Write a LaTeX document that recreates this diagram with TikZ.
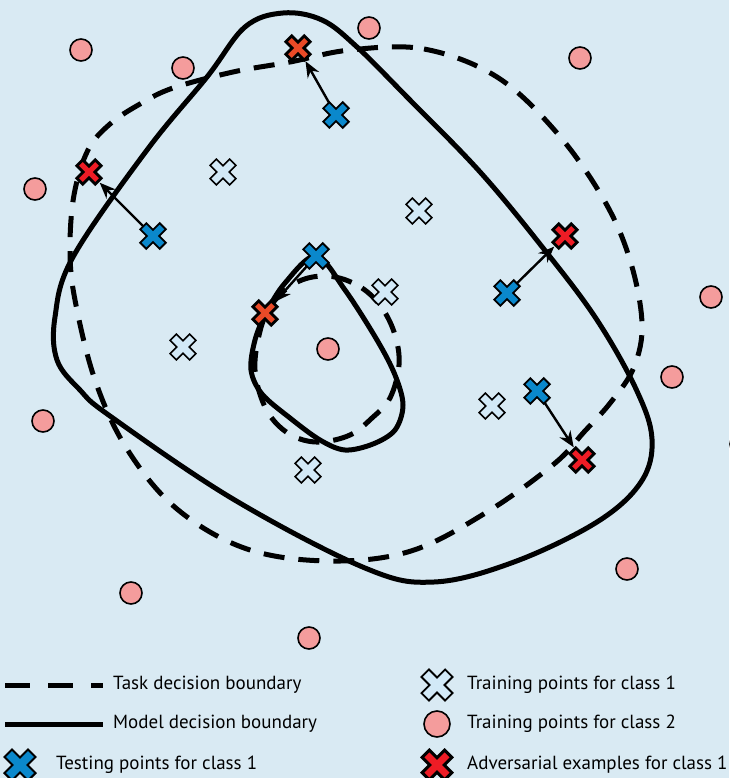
\documentclass[tikz,border=0pt]{standalone}
\usepackage{fontspec}
\setmainfont{PT Sans}
\usetikzlibrary{arrows.meta}
\definecolor{bgblue}{HTML}{D9EAF3}
\definecolor{pinkpt}{HTML}{F49C9C}
\definecolor{testblue}{HTML}{0A88CC}
\definecolor{trainblue}{HTML}{D2E9F7}
\definecolor{advred}{HTML}{EE1C25}
\definecolor{advorange}{HTML}{EA4A27}
\tikzset{
  pics/xcross/.style n args={3}{code={
    \filldraw[fill=#1, draw=black, line width=#2, line join=miter, scale=#3, rotate=45]
      (4.6,14.5)--(4.6,4.6)--(14.5,4.6)--(14.5,-4.6)--(4.6,-4.6)--(4.6,-14.5)
      --(-4.6,-14.5)--(-4.6,-4.6)--(-14.5,-4.6)--(-14.5,4.6)--(-4.6,4.6)--(-4.6,14.5)--cycle;
  }},
  spot/.style={circle, minimum size=22pt, inner sep=0pt, fill=pinkpt, draw=black, line width=1.6pt},
  xpos/.style={circle, minimum size=24pt, inner sep=0pt},
  advpos/.style={circle, minimum size=30pt, inner sep=0pt},
  modelline/.style={line width=5pt, draw=black},
  taskline/.style={line width=5pt, draw=black, dash pattern=on 21pt off 14pt},
  advarrow/.style={-{Stealth[length=16pt,width=13pt]}, line width=2.4pt},
  legtext/.style={anchor=west, font=\fontsize{19}{21}\selectfont, inner sep=0pt},
}
\begin{document}
\begin{tikzpicture}[x=1pt,y=-1pt]
\useasboundingbox (0,0) rectangle (729,778);
\fill[bgblue] (0,0) rectangle (729,778);

% model decision boundary (outer)
\draw[modelline] plot[smooth cycle, tension=0.6] coordinates {
  (283,13) (322,20) (357,47) (407,97) (481,173) (547,253) (597,320) (636,389)
  (652,439) (641,482) (597,522) (514,562) (434,582) (365,568) (233,499)
  (110,416) (80,390) (57,360) (55,317) (73,257) (147,150) (207,77) (245,27)};

% task decision boundary (outer)
\draw[taskline] plot[smooth cycle, tension=0.6] coordinates {
  (350,50) (424,49) (497,77) (557,133) (604,200) (630,260) (642,323) (634,367)
  (611,402) (584,432) (554,464) (487,512) (411,551) (330,561) (247,549)
  (177,509) (127,449) (95,380) (75,300) (70,250) (74,195) (88,150)
  (110,124) (140,104) (173,88) (233,72) (290,62)};

% model decision boundary (inner)
\draw[modelline] plot[smooth cycle, tension=0.55] coordinates {
  (316,256) (345,290) (377,340) (395,375) (403,405) (395,430) (373,444)
  (345,450) (320,440) (290,418) (262,394) (251,370) (255,340) (266,313)
  (285,283)};

% task decision boundary (inner)
\draw[taskline] plot[smooth cycle, tension=0.6] coordinates {
  (335,277) (362,288) (382,308) (395,335) (399,365) (390,398) (372,418)
  (350,435) (320,442) (295,437) (275,422) (262,400) (255,370) (258,340)
  (267,312) (285,290) (308,278)};

% training points for class 2
\foreach \n/\p in {c1/{(81,50)}, c2/{(183,68)}, c3/{(369,28)}, c4/{(580,58)},
  c5/{(35,189)}, c6/{(711,297)}, c7/{(672,377)}, c8/{(328,349)}, c9/{(43,421)},
  c10/{(627,569)}, c11/{(131,593)}, c12/{(309,638)}, c13/{(741,444)}}
  \node[spot] (\n) at \p {};

% named positions of the crosses
\node[xpos] (r1) at (223,172) {};
\node[xpos] (r2) at (419,211) {};
\node[xpos] (r3) at (385,292) {};
\node[xpos] (r4) at (183,347) {};
\node[xpos] (r5) at (492,406) {};
\node[xpos] (r6) at (308,470) {};
\node[xpos] (t1) at (336,115) {};
\node[xpos] (t2) at (153,236) {};
\node[xpos] (t3) at (316,256) {};
\node[xpos] (t4) at (507,293) {};
\node[xpos] (t5) at (537,391) {};
\node[advpos] (a1) at (298,48) {};
\node[advpos] (a2) at (89,172) {};
\node[advpos] (a3) at (565,236) {};
\node[advpos] (a4) at (265,313) {};
\node[advpos] (a5) at (582,460) {};

% adversarial shifts
\draw[advarrow] (t1.center) -- (a1);
\draw[advarrow] (t2.center) -- (a2);
\draw[advarrow] (t3.center) -- (a4);
\draw[advarrow] (t4.center) -- (a3);
\draw[advarrow] (t5.center) -- (a5);

% cross markers
\foreach \n in {r1,r2,r3,r4,r5,r6} \pic at (\n) {xcross={trainblue}{1.6pt}{0.95}};
\foreach \n in {t1,t2,t3,t4,t5} \pic at (\n) {xcross={testblue}{1.8pt}{0.95}};
\foreach \n in {a2,a3,a5} \pic at (\n) {xcross={advred}{2.8pt}{0.9}};
\foreach \n in {a1,a4} \pic at (\n) {xcross={advorange}{2.8pt}{0.9}};

% legend
\coordinate (l1a) at (5,685);
\coordinate (l1b) at (103,685);
\coordinate (l2a) at (5,724);
\coordinate (l2b) at (103,724);
\draw[line width=5pt, dash pattern=on 25pt off 18pt] (l1a) -- (l1b);
\draw[line width=5pt] (l2a) -- (l2b);
\node[legtext] (lt1) at (113,685) {Task decision boundary};
\node[legtext] (lt2) at (113,724) {Model decision boundary};
\node[xpos] (lm3) at (20,765) {};
\pic at (lm3) {xcross={testblue}{2pt}{1.15}};
\node[legtext] (lt3) at (56,765) {Testing points for class 1};
\node[xpos] (lm4) at (437,685) {};
\pic at (lm4) {xcross={trainblue}{1.8pt}{1.15}};
\node[legtext] (lt4) at (467,685) {Training points for class 1};
\node[spot, minimum size=26pt] (lm5) at (437,724) {};
\node[legtext] (lt5) at (467,724) {Training points for class 2};
\node[xpos] (lm6) at (437,765) {};
\pic at (lm6) {xcross={advred}{3pt}{1.1}};
\node[legtext] (lt6) at (467,765) {Adversarial examples for class 1};
\end{tikzpicture}
\end{document}
